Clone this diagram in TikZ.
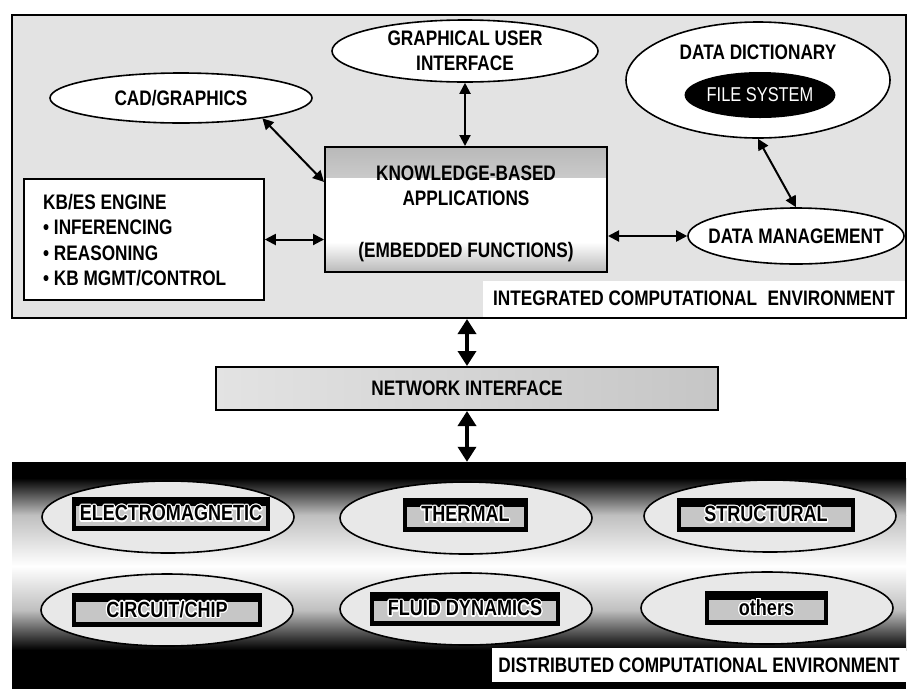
\documentclass[tikz,border=0pt]{standalone}
\usepackage{fontspec}
\setmainfont{Liberation Sans}[FakeStretch=0.82]
\usepackage[copies]{contour}
\contourlength{1.2pt}
\usetikzlibrary{arrows.meta,shapes.geometric}

\begin{document}
\begin{tikzpicture}[x=1pt,y=-1pt,
  lab/.style={font=\fontsize{21}{25}\selectfont\bfseries},
  oval/.style={ellipse,draw=black,line width=1.6pt,fill=white,inner sep=0pt,lab},
  link/.style={line width=2pt,{Triangle[length=11pt,width=11pt]}-{Triangle[length=11pt,width=11pt]}},
  netlink/.style={line width=3.5pt,{Triangle[length=15pt,width=18pt]}-{Triangle[length=15pt,width=18pt]}},
  simoval/.style={ellipse,draw=black,line width=1.6pt,fill=gray!18,
    minimum width=252pt,minimum height=72pt,inner sep=0pt},
  simbar/.style={fill=black,minimum height=34pt,inner sep=0pt,
    font=\fontsize{22}{24}\selectfont\bfseries,
    path picture={\fill[gray!45]
      ([xshift=4pt,yshift=5pt]path picture bounding box.south west) rectangle
      ([xshift=-4pt,yshift=-9pt]path picture bounding box.north east);}},
  labelbox/.style={fill=white,inner sep=0pt,lab},
]
\useasboundingbox (0,0) rectangle (909,689);

% ---------- integrated computational environment ----------
\node[draw=black,line width=2pt,fill=gray!22,minimum width=894pt,minimum height=303pt,inner sep=0pt]
  (ice) at (459,166.5) {};
\node[labelbox,minimum width=422pt,minimum height=36pt] (icelabel) at (694,298.5)
  {INTEGRATED COMPUTATIONAL\hspace{0.5em}ENVIRONMENT};

\node[oval,minimum width=262pt,minimum height=50pt] (cad) at (181,98) {CAD/GRAPHICS};
\node[oval,minimum width=266pt,minimum height=62pt,align=center] (gui) at (465,51)
  {GRAPHICAL USER\\INTERFACE};

\node[oval,minimum width=264pt,minimum height=116pt] (dd) at (758,80) {};
\node[lab] (ddtitle) at (758,52) {DATA DICTIONARY};
\node[ellipse,fill=black,minimum width=144pt,minimum height=46pt,inner sep=0pt,text=white,
  font=\fontsize{20}{22}\selectfont] (fs) at (760,95) {FILE SYSTEM};

\node[oval,minimum width=216pt,minimum height=56pt,label={[lab]center:DATA MANAGEMENT}]
  (dm) at (796,236) {};

\node[draw=black,line width=1.6pt,fill=white,minimum width=240pt,minimum height=121pt,inner sep=0pt]
  (kbes) at (144,239.5) {};
\node[font=\fontsize{21}{25.3}\selectfont\bfseries,align=left,anchor=north west,inner sep=0pt]
  (kbestext) at (43,194) {KB/ES ENGINE\\• INFERENCING\\• REASONING\\• KB MGMT/CONTROL};

\node[draw=black,line width=2pt,fill=white,minimum width=282pt,minimum height=125pt,inner sep=0pt,
  path picture={
    \shade[top color=gray!55,bottom color=white]
      (path picture bounding box.north west) rectangle ([yshift=-30pt]path picture bounding box.north east);
    \shade[bottom color=gray!55,top color=white]
      (path picture bounding box.south west) rectangle ([yshift=30pt]path picture bounding box.south east);}]
  (kb) at (466,209.5) {};
\node[lab,align=center] (kbtitle) at (466,186) {KNOWLEDGE-BASED\\APPLICATIONS};
\node[lab] (kbemb) at (466,252) {(EMBEDDED FUNCTIONS)};

\draw[link] (cad.-14) -- (kb.169);
\draw[link] (gui.south) -- (gui.south |- kb.north);
\draw[link] (kbes.east) -- (kbes.east -| kb.west);
\draw[link] (kb.east |- dm.west) -- (dm.west);
\draw[link] (dd.south) -- (dm.north);

% ---------- network interface ----------
\node[draw=black,line width=2pt,left color=gray!22,right color=gray!45,
  minimum width=502pt,minimum height=43pt,inner sep=0pt,lab] (ni) at (467,388.5) {NETWORK INTERFACE};

% ---------- distributed computational environment ----------
\fill[black] (12,462) rectangle (906,689);
\shade[top color=black,bottom color=gray!50] (12,478) rectangle (906,515);
\shade[top color=gray!50,bottom color=white] (12,515) rectangle (906,566);
\shade[top color=white,bottom color=gray!50] (12,566) rectangle (906,610);
\shade[top color=gray!50,bottom color=black] (12,610) rectangle (906,650);
\node[minimum width=894pt,minimum height=227pt,inner sep=0pt] (dce) at (459,575.5) {};

\node[simoval] (em) at (168,517) {};
\node[simbar,minimum width=198pt] (emb) at (171,514) {\contour{white}{ELECTROMAGNETIC}};
\node[simoval] (th) at (466,518) {};
\node[simbar,minimum width=125pt] (thb) at (465.5,515) {\contour{white}{THERMAL}};
\node[simoval] (st) at (770,516) {};
\node[simbar,minimum width=178pt] (stb) at (766,515) {\contour{white}{STRUCTURAL}};
\node[simoval] (cc) at (167,610) {};
\node[simbar,minimum width=190pt] (ccb) at (167,610) {\contour{white}{CIRCUIT/CHIP}};
\node[simoval] (fd) at (466,609) {};
\node[simbar,minimum width=190pt] (fdb) at (465,609) {\contour{white}{FLUID DYNAMICS}};
\node[simoval] (ot) at (767,608) {};
\node[simbar,minimum width=123pt] (otb) at (766.5,608) {\contour{white}{others}};

\node[labelbox,minimum width=414pt,minimum height=34pt] (dcelabel) at (699,665)
  {DISTRIBUTED COMPUTATIONAL ENVIRONMENT};

\draw[netlink] (ni.north |- ice.south) -- (ni.north);
\draw[netlink] (ni.south) -- (ni.south |- dce.north);
\end{tikzpicture}
\end{document}
